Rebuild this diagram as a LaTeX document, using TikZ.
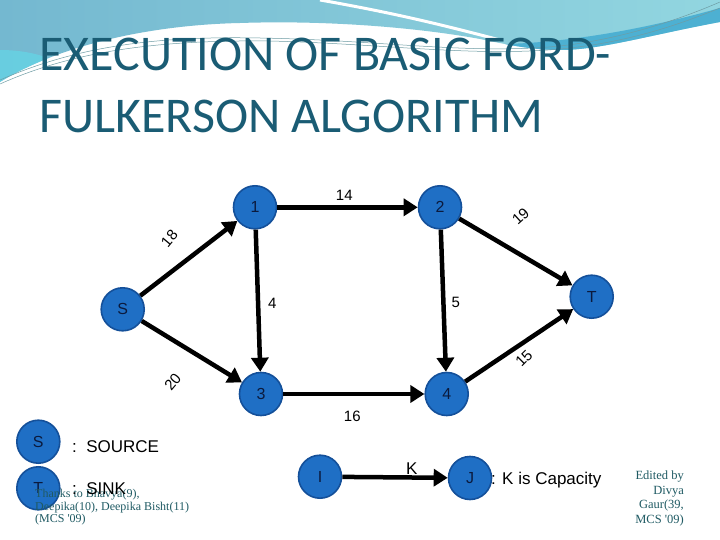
\documentclass[tikz,border=0pt]{standalone}
\usepackage{fontspec}
\setmainfont{Liberation Sans}
\newfontfamily\titlefont{Carlito}
\newfontfamily\notefont{Liberation Serif}
\usetikzlibrary{arrows.meta}
\definecolor{titleblue}{HTML}{1A5C74}
\definecolor{nodefill}{HTML}{1F6FC5}
\definecolor{nodeline}{HTML}{14509A}
\definecolor{nodetext}{HTML}{0B1A3D}
\definecolor{notecol}{HTML}{1F5A63}
\definecolor{bgleft}{HTML}{74B8D0}
\definecolor{bgright}{HTML}{92D6E0}
\definecolor{bgband}{HTML}{4DB0D2}
\definecolor{bgcyan}{HTML}{60DCEB}
\definecolor{thinline}{HTML}{6E9CA4}
\tikzset{
  vnode/.style={circle, minimum size=43pt, inner sep=0pt, fill=nodefill, draw=nodeline,
    line width=1.6pt, text=nodetext, font=\fontsize{16}{16}\selectfont},
  flow/.style={line width=4.5pt, -{Triangle[length=14pt,width=17pt]}},
  capl/.style={font=\fontsize{15}{15}\selectfont, inner sep=0pt},
  legtext/.style={font=\fontsize{17}{17}\selectfont, inner sep=0pt, anchor=west},
  note/.style={font=\notefont\fontsize{12}{12.5}\selectfont, text=notecol, inner sep=0pt}
}
\begin{document}
\begin{tikzpicture}[x=1pt,y=-1pt]
\useasboundingbox (0,0) rectangle (720,540);
\fill[white] (0,0) rectangle (720,540);
% background swoosh
\path[left color=bgleft, right color=bgright]
  (0,0) -- (720,0) -- (720,22) .. controls (650,35) and (600,50) .. (560,50)
  .. controls (530,50) and (505,44) .. (480,39)
  .. controls (420,28) and (330,20) .. (240,23)
  .. controls (150,25) and (60,45) .. (0,82) -- cycle;
\begin{scope}
  \clip (0,0) -- (240,0) -- (240,23) .. controls (150,25) and (60,45) .. (0,82) -- cycle;
  \fill[bgcyan, opacity=0.6] (0,80) ellipse [x radius=70, y radius=30];
\end{scope}
\fill[bgband] (720,22) .. controls (650,35) and (600,50) .. (560,50)
  .. controls (540,50) and (520,47) .. (505,44)
  .. controls (580,42) and (660,25) .. (720,8) -- cycle;
\draw[white, line width=3pt] (320,0) .. controls (400,14) and (450,27) .. (500,40);
\draw[thinline, line width=0.5pt] (0,80) .. controls (80,45) and (160,36) .. (260,38)
  .. controls (380,40) and (470,55) .. (560,46) .. controls (630,38) and (690,15) .. (720,2);
\draw[thinline, line width=0.5pt] (0,84) .. controls (80,48) and (170,40) .. (270,41)
  .. controls (390,44) and (480,58) .. (570,48) .. controls (640,40) and (690,20) .. (720,8);
% title
\node[anchor=base west, inner sep=0pt, text=titleblue] (t1) at (39,71)
  {\titlefont\fontsize{50}{50}\selectfont EXECUTION OF BASIC FORD-};
\node[anchor=base west, inner sep=0pt, text=titleblue] (t2) at (39,133)
  {\titlefont\fontsize{50}{50}\selectfont FULKERSON ALGORITHM};
% graph nodes
\node[vnode] (S) at (122.7,309.3) {S};
\node[vnode] (n1) at (255,207.3) {1};
\node[vnode] (n2) at (440,207.3) {2};
\node[vnode] (n3) at (261,394) {3};
\node[vnode] (n4) at (446.7,394) {4};
\node[vnode] (T) at (591.7,296.7) {T};
% edges
\draw[flow] (S) -- (n1);
\draw[flow] (S) -- (n3);
\draw[flow] (n1) -- (n2);
\draw[flow] (n1) -- (n3);
\draw[flow] (n2) -- (n4);
\draw[flow] (n3) -- (n4);
\draw[flow] (n2) -- (T);
\draw[flow] (n4) -- (T);
% capacities
\node[capl] (c14) at (344.3,195) {14};
\node[capl, rotate=50] (c18) at (169.3,238.3) {18};
\node[capl, rotate=42] (c19) at (520.7,216.5) {19};
\node[capl] (c4) at (272.3,303.3) {4};
\node[capl] (c5) at (455.7,302.7) {5};
\node[capl, rotate=50] (c20) at (172.7,381.7) {20};
\node[capl, rotate=45] (c15) at (524,358.5) {15};
\node[capl] (c16) at (352.3,416.7) {16};
% legend
\node[vnode] (LS) at (38.3,441.7) {S};
\node[legtext] (src) at (72,446.5) {:\ \ SOURCE};
\node[vnode] (LT) at (38.3,488.3) {T};
\node[note, anchor=north west, align=left] (thanks) at (35,489)
  {Thanks to Bhavya(9),\\Deepika(10), Deepika Bisht(11)\\(MCS '09)};
\node[legtext] (snk) at (72,489) {:\ \ SINK};
\node[vnode] (LI) at (320,476.7) {I};
\node[vnode] (LJ) at (470,478) {J};
\draw[flow] (LI) -- (LJ);
\node[capl, font=\fontsize{17}{17}\selectfont] (lk) at (411.7,469) {K};
\node[legtext] (capt) at (491,480) {: K is Capacity};
\node[note, anchor=north east, align=right, font=\notefont\fontsize{12.5}{14.5}\selectfont] (edited) at (684,471)
  {Edited by\\Divya\\Gaur(39,\\MCS '09)};
\end{tikzpicture}
\end{document}
